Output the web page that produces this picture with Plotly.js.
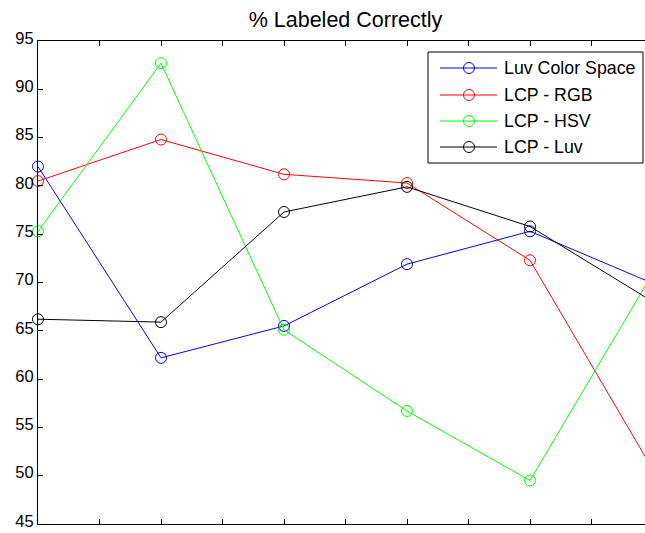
<!DOCTYPE html>
<html>
<head>
<meta charset="utf-8">
<script src="https://cdn.plot.ly/plotly-3.0.1.min.js"></script>
<style>
html,body{margin:0;padding:0;overflow:hidden;background:#fff;width:645px;height:533px;}
#chart{width:700px;height:533px;}
</style>
</head>
<body>
<div id="chart"></div>
<script>
// ---- data ----
const xIndex = [1, 2, 3, 4, 5, 6];
const seriesNames = ["Luv Color Space", "LCP - RGB", "LCP - HSV", "LCP - Luv"];
const luvColorSpace = [82.0, 62.2, 65.5, 71.9, 75.3, 69.9];
const lcpRGB = [80.5, 84.8, 81.2, 80.3, 72.3, 50.6];
const lcpHSV = [75.3, 92.7, 65.1, 56.7, 49.5, 71.0];
const lcpLuv = [66.2, 65.9, 77.3, 79.9, 75.8, 68.0];
const seriesColors = ["#0000ff", "#ff0000", "#00ff00", "#000000"];
const yTickVals = [45, 50, 55, 60, 65, 70, 75, 80, 85, 90, 95];
const titleText = "% Labeled Correctly";

const allSeries = [luvColorSpace, lcpRGB, lcpHSV, lcpLuv];
const FONT = "'Liberation Sans', Arial, Helvetica, sans-serif";

const traces = allSeries.map((ys, i) => ({
  type: "scatter",
  mode: "lines+markers",
  x: xIndex,
  y: ys,
  name: seriesNames[i],
  cliponaxis: false,
  line: {color: seriesColors[i], width: 1},
  marker: {symbol: "circle-open", size: 11, color: seriesColors[i], line: {width: 1, color: seriesColors[i]}},
  showlegend: false
}));

// plot area geometry (px) used to place manual legend
const L = 38, T = 41, W = 615, H = 483;
const px = v => (v - L) / W;
const py = v => (T + H - v) / H;

const shapes = [{
  type: "rect", xref: "paper", yref: "paper",
  x0: px(428), x1: px(643), y0: py(163), y1: py(52),
  line: {color: "#000", width: 1}, fillcolor: "#fff", layer: "above"
}];
const annotations = [];
const itemY = [68, 95, 121, 147];
seriesNames.forEach((name, i) => {
  const yy = py(itemY[i]);
  shapes.push({type: "line", xref: "paper", yref: "paper", x0: px(440), x1: px(497), y0: yy, y1: yy,
    line: {color: seriesColors[i], width: 1}, layer: "above"});
  shapes.push({type: "circle", xref: "paper", yref: "paper",
    x0: px(469 - 5.5), x1: px(469 + 5.5), y0: py(itemY[i] + 5.5), y1: py(itemY[i] - 5.5),
    line: {color: seriesColors[i], width: 1}, fillcolor: "rgba(0,0,0,0)", layer: "above"});
  annotations.push({xref: "paper", yref: "paper", x: px(502), y: yy, xanchor: "left", yanchor: "middle",
    text: name, showarrow: false, font: {family: FONT, size: 17.8, color: "#000"}});
});

const layout = {
  width: 700, height: 533,
  margin: {l: L, r: 700 - L - W, t: T, b: 533 - T - H, pad: 0},
  paper_bgcolor: "#fff", plot_bgcolor: "#fff",
  font: {family: FONT, size: 17, color: "#000"},
  title: {text: titleText, font: {family: FONT, size: 21.5, color: "#000"},
          x: 0.5, xref: "paper", y: 1 - 19 / 533, yref: "container", yanchor: "middle"},
  xaxis: {range: [1, 6], tickvals: [1, 1.5, 2, 2.5, 3, 3.5, 4, 4.5, 5, 5.5, 6], showticklabels: false,
          ticks: "inside", ticklen: 5, tickcolor: "#000", tickwidth: 1,
          showline: true, linecolor: "#000", linewidth: 1, mirror: "ticks",
          showgrid: false, zeroline: false, fixedrange: true},
  yaxis: {range: [45, 95], tickvals: yTickVals, ticktext: yTickVals.map(String),
          ticks: "inside", ticklen: 5, tickcolor: "#000", tickwidth: 1,
          showline: true, linecolor: "#000", linewidth: 1, mirror: "ticks",
          showgrid: false, zeroline: false, fixedrange: true, ticklabeloverflow: "allow",
          ticklabelshift: -3,
          tickfont: {family: FONT, size: 16.5, color: "#000"}},
  shapes: shapes,
  annotations: annotations,
  showlegend: false
};

Plotly.newPlot("chart", traces, layout, {displayModeBar: false, staticPlot: true});
</script>
</body>
</html>
